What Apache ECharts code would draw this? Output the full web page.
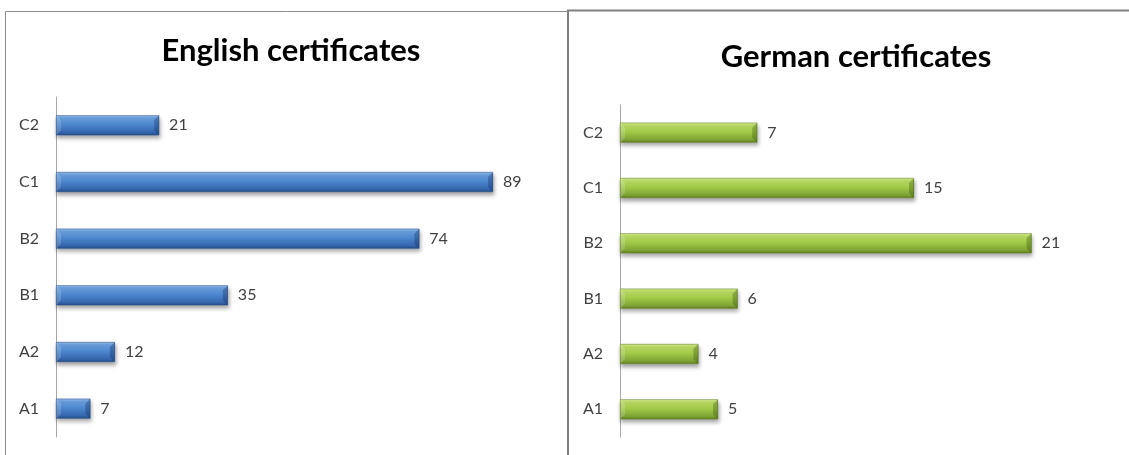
<!DOCTYPE html>
<html>
<head>
<meta charset="utf-8">
<script src="https://cdn.jsdelivr.net/npm/echarts@6/dist/echarts.min.js"></script>
<style>
  html, body { margin: 0; padding: 0; background: #fff; }
  #chart { width: 1129px; height: 455px; }
</style>
</head>
<body>
<div id="chart"></div>
<script>
// Certificate levels, bottom to top
const levels = ['A1', 'A2', 'B1', 'B2', 'C1', 'C2'];
// Number of certificates per level
const englishCounts = [7, 12, 35, 74, 89, 21];
const germanCounts = [5, 4, 6, 21, 15, 7];
const englishTitle = 'English certificates';
const germanTitle = 'German certificates';

const FONT = 'Lato, "Open Sans", sans-serif';
const BAR_W = 20;

function barGradient(stops) {
  return new echarts.graphic.LinearGradient(0, 0, 0, 1,
    stops.map(s => ({ offset: s[0], color: s[1] })));
}

const blueFill = barGradient([
  [0, '#a3c8f0'], [0.12, '#6ea3e2'], [0.45, '#4d88cf'],
  [0.85, '#3566ad'], [1, '#244d88']
]);
const greenFill = barGradient([
  [0, '#e0f4a0'], [0.12, '#bfe06a'], [0.45, '#a2cb48'],
  [0.85, '#7ea334'], [1, '#5f7d22']
]);

function barSeries(idx, values, fill, edge) {
  return {
    type: 'bar',
    xAxisIndex: idx,
    yAxisIndex: idx,
    data: values,
    barWidth: BAR_W,
    itemStyle: {
      color: fill,
      borderColor: edge,
      borderWidth: 0.6,
      shadowColor: 'rgba(0,0,0,0.35)',
      shadowBlur: 4,
      shadowOffsetX: 1,
      shadowOffsetY: 3
    },
    label: {
      show: true,
      position: 'right',
      distance: 10,
      color: '#404040',
      fontFamily: FONT,
      fontSize: 16
    },
    z: 2,
    emphasis: { disabled: true },
    silent: true
  };
}

// bevelled ends drawn on top of each bar
function bevelSeries(idx, values, dark, light) {
  return {
    type: 'custom',
    xAxisIndex: idx,
    yAxisIndex: idx,
    data: values.map((v, i) => [v, i]),
    z: 3,
    silent: true,
    renderItem: function (params, api) {
      const end = api.coord([api.value(0), api.value(1)]);
      const start = api.coord([0, api.value(1)]);
      const h = BAR_W / 2;
      const b = 5;
      const top = end[1] - h, bot = end[1] + h;
      return {
        type: 'group',
        children: [
          { type: 'polygon',
            shape: { points: [[end[0] - b, top + b], [end[0], top], [end[0], bot], [end[0] - b, bot - b]] },
            style: { fill: dark } },
          { type: 'polygon',
            shape: { points: [[start[0] + 0.5, top], [start[0] + b, top + b], [start[0] + b, bot - b], [start[0] + 0.5, bot]] },
            style: { fill: light } }
        ]
      };
    }
  };
}

function catAxis(idx) {
  return {
    type: 'category',
    gridIndex: idx,
    data: levels,
    axisLine: { show: true, lineStyle: { color: '#a6a6a6', width: 1 } },
    axisTick: { show: false },
    axisLabel: { color: '#404040', fontFamily: FONT, fontSize: 16, margin: 17 }
  };
}

function valAxis(idx, max) {
  return {
    type: 'value',
    gridIndex: idx,
    min: 0,
    max: max,
    show: false,
    splitLine: { show: false }
  };
}

const chart = echarts.init(document.getElementById('chart'), null, { renderer: 'canvas' });

chart.setOption({
  animation: false,
  backgroundColor: '#ffffff',
  title: [
    {
      text: englishTitle,
      left: 286, top: 30, textAlign: 'center',
      textStyle: { fontFamily: FONT, fontWeight: 'bold', fontSize: 31, color: '#000' }
    },
    {
      text: germanTitle,
      left: 851, top: 36, textAlign: 'center',
      textStyle: { fontFamily: FONT, fontWeight: 'bold', fontSize: 31, color: '#000' }
    }
  ],
  grid: [
    { left: 56, top: 97, width: 491, height: 340, containLabel: false },
    { left: 620, top: 105, width: 490, height: 332, containLabel: false }
  ],
  xAxis: [valAxis(0, 100), valAxis(1, 25)],
  yAxis: [catAxis(0), catAxis(1)],
  series: [
    barSeries(0, englishCounts, blueFill, '#2a5592'),
    barSeries(1, germanCounts, greenFill, '#6a8a28'),
    bevelSeries(0, englishCounts, 'rgba(20,50,100,0.35)', 'rgba(255,255,255,0.18)'),
    bevelSeries(1, germanCounts, 'rgba(60,85,15,0.35)', 'rgba(255,255,255,0.2)')
  ],
  graphic: [
    // frame around the left panel
    { type: 'polyline', silent: true,
      shape: { points: [[5.5, 455], [5.5, 11.5], [567, 11.5]] },
      style: { stroke: '#8c8c8c', lineWidth: 1, fill: null } },
    // divider and frame of the right panel
    { type: 'polyline', silent: true,
      shape: { points: [[568, 455], [568, 10.5], [1129, 10.5]] },
      style: { stroke: '#7f7f7f', lineWidth: 2, fill: null } }
  ]
});
</script>
</body>
</html>
